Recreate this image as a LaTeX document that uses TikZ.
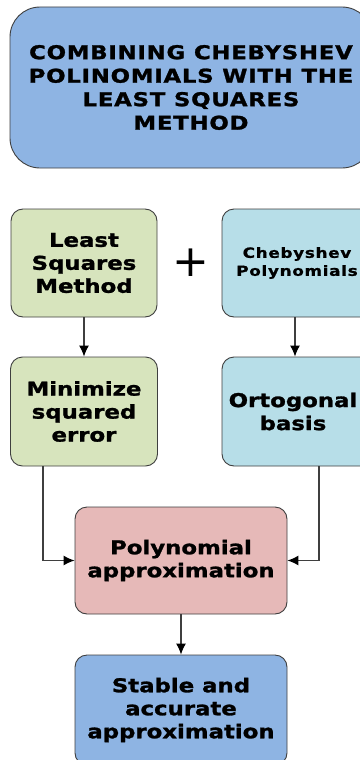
\documentclass[tikz,border=0pt]{standalone}
\usepackage{fontspec}
\setmainfont{DejaVu Sans}
\newfontfamily\boxfont{DejaVu Sans Bold}[FakeStretch=1.2,FakeBold=1.4]
\newfontfamily\titlefont{DejaVu Sans Bold}[FakeStretch=1.2,LetterSpace=4,FakeBold=1.4]
\newfontfamily\smallfont{DejaVu Sans Bold}[FakeStretch=1.2,LetterSpace=5,FakeBold=1.2]
\usetikzlibrary{arrows.meta}

\definecolor{titleblue}{HTML}{8EB4E3}
\definecolor{lsgreen}{HTML}{D7E4BD}
\definecolor{chebblue}{HTML}{B7DEE8}
\definecolor{approxpink}{HTML}{E6B9B8}
\definecolor{edgegray}{HTML}{3F3F3F}

\tikzset{
    flowbox/.style={rectangle,rounded corners=12pt,draw=edgegray,line width=0.9pt,
        align=center,inner sep=0pt,font=\boxfont\fontsize{19}{23}\selectfont},
    flowarrow/.style={draw=edgegray,line width=1.2pt,-{Latex[length=11pt,width=10pt,color=black]}}
}

\begin{document}
\begin{tikzpicture}[x=1pt,y=-1pt]
    \useasboundingbox (0,0) rectangle (359,760);

    % nodes
    \node (title) at (191,87.5) [flowbox,fill=titleblue,rounded corners=30pt,
        minimum width=362pt,minimum height=161pt,font=\titlefont\fontsize{19}{23.5}\selectfont]
        {COMBINING CHEBYSHEV\\POLINOMIALS WITH THE\\LEAST SQUARES\\METHOD};
    \node (lsm) at (84,263) [flowbox,fill=lsgreen,minimum width=146pt,minimum height=108pt] {Least\\Squares\\Method};
    \node (plus) at (191,263) {\fontsize{44}{44}\selectfont +};
    \node (cheb) at (297,263) [flowbox,fill=chebblue,minimum width=150pt,minimum height=108pt,
        font=\smallfont\fontsize{14}{18}\selectfont] {Chebyshev\\Polynomials};
    \node (minerr) at (84,411.5) [flowbox,fill=lsgreen,minimum width=147pt,minimum height=109pt] {Minimize\\squared\\error};
    \node (ortho) at (297,411.5) [flowbox,fill=chebblue,minimum width=150pt,minimum height=109pt] {\hspace*{-8pt}Ortogonal\\\hspace*{-8pt}basis};
    \node (polyapp) at (181,560.5) [flowbox,fill=approxpink,minimum width=212pt,minimum height=107pt] {Polynomial\\approximation};
    \node (stable) at (181,710) [flowbox,fill=titleblue,minimum width=212pt,minimum height=110pt] {Stable and\\accurate\\approximation};

    % paths
    \draw[flowarrow] (lsm) -- (minerr);
    \draw[flowarrow] ([xshift=-2pt]cheb.south) -- ([xshift=-2pt]ortho.north);
    \draw[flowarrow] ([xshift=-41pt]minerr.south) |- (polyapp.west);
    \draw[flowarrow] ([xshift=22pt]ortho.south) |- (polyapp.east);
    \draw[flowarrow] (polyapp) -- (stable);
\end{tikzpicture}
\end{document}
